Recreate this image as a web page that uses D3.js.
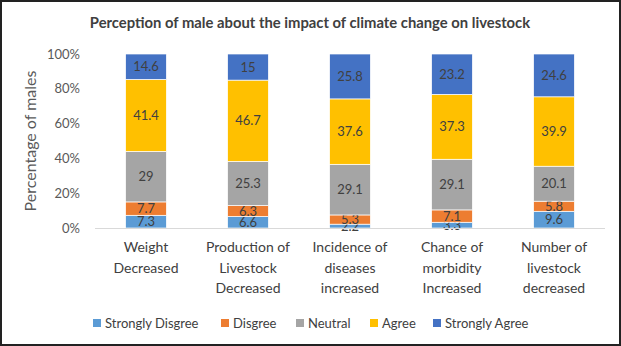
<!DOCTYPE html>
<html>
<head>
<meta charset="utf-8">
<script src="https://cdn.jsdelivr.net/npm/d3@7"></script>
<style>
  html, body { margin: 0; padding: 0; background: #fff; }
  svg { display: block; font-family: Lato, "Open Sans", sans-serif; }
</style>
</head>
<body>
<div id="chart"></div>
<script>
// categories shown along the x axis (one line per array entry)
const categories = [
  ['Weight', 'Decreased'],
  ['Production of', 'Livestock', 'Decreased'],
  ['Incidence of', 'diseases', 'increased'],
  ['Chance of', 'morbidity', 'Increased'],
  ['Number of', 'livestock', 'decreased']
];

const seriesNames = ['Strongly Disgree', 'Disgree', 'Neutral', 'Agree', 'Strongly Agree'];
const seriesColors = ['#5B9BD5', '#ED7D31', '#A5A5A5', '#FFC000', '#4472C4'];

// percentage of males per response, one array per series
const stronglyDisagree = [7.3, 6.6, 2.2, 3.3, 9.6];
const disagree = [7.7, 6.3, 5.3, 7.1, 5.8];
const neutral = [29, 25.3, 29.1, 29.1, 20.1];
const agree = [41.4, 46.7, 37.6, 37.3, 39.9];
const stronglyAgree = [14.6, 15, 25.8, 23.2, 24.6];

const yTicks = [0, 0.2, 0.4, 0.6, 0.8, 1];

const seriesValues = [stronglyDisagree, disagree, neutral, agree, stronglyAgree];
const rows = categories.map((c, i) => {
  const r = { idx: i };
  seriesNames.forEach((s, j) => { r[s] = seriesValues[j][i]; });
  return r;
});

const W = 621, H = 346;
const svg = d3.select('#chart').append('svg')
  .attr('width', W).attr('height', H);

// outer frame
svg.append('rect')
  .attr('x', 1).attr('y', 1).attr('width', W - 2).attr('height', H - 2)
  .attr('fill', '#fff').attr('stroke', '#222').attr('stroke-width', 2);

svg.append('text')
  .attr('x', 310).attr('y', 28)
  .attr('text-anchor', 'middle')
  .attr('font-size', 14.8).attr('font-weight', 'bold').attr('fill', '#404040')
  .text('Perception of male about the impact of climate change on livestock');

const x = d3.scaleBand()
  .domain(d3.range(categories.length))
  .range([95, 605])
  .paddingInner(0.6).paddingOuter(0.3);

const y = d3.scaleLinear().domain([0, 1]).range([228, 54]);

const stack = d3.stack().keys(seriesNames).offset(d3.stackOffsetExpand);
const layers = stack(rows);

// y axis labels
svg.append('g').selectAll('text')
  .data(yTicks).enter().append('text')
  .attr('x', 80).attr('y', d => y(d))
  .attr('dy', '0.35em')
  .attr('text-anchor', 'end')
  .attr('font-size', 13).attr('fill', '#595959')
  .text(d3.format('.0%'));

svg.append('text')
  .attr('transform', 'translate(36,' + ((y(0) + y(1)) / 2) + ') rotate(-90)')
  .attr('text-anchor', 'middle')
  .attr('font-size', 16).attr('fill', '#595959')
  .text('Percentage of males');

const layerG = svg.append('g').selectAll('g')
  .data(layers).enter().append('g')
  .attr('fill', (d, i) => seriesColors[i]);

layerG.selectAll('rect')
  .data(d => d).enter().append('rect')
  .attr('x', d => x(d.data.idx))
  .attr('y', d => y(d[1]))
  .attr('width', x.bandwidth())
  .attr('height', d => y(d[0]) - y(d[1]))
  .attr('stroke', '#fff').attr('stroke-width', 0.7);

// value labels centred in each segment
layerG.each(function (layer) {
  d3.select(this).selectAll('text')
    .data(layer).enter().append('text')
    .attr('x', d => x(d.data.idx) + x.bandwidth() / 2)
    .attr('y', d => (y(d[0]) + y(d[1])) / 2)
    .attr('dy', '0.36em')
    .attr('text-anchor', 'middle')
    .attr('font-size', 13).attr('fill', '#404040')
    .text(d => d.data[layer.key]);
});

// x axis line
svg.append('line')
  .attr('x1', 95).attr('x2', 605)
  .attr('y1', y(0) + 0.5).attr('y2', y(0) + 0.5)
  .attr('stroke', '#D9D9D9').attr('stroke-width', 1);

// category labels
svg.append('g').selectAll('text')
  .data(categories).enter().append('text')
  .attr('x', (d, i) => x(i) + x.bandwidth() / 2)
  .attr('y', 252)
  .attr('text-anchor', 'middle')
  .attr('font-size', 14).attr('fill', '#404040')
  .each(function (lines) {
    d3.select(this).selectAll('tspan')
      .data(lines).enter().append('tspan')
      .attr('x', d3.select(this).attr('x'))
      .attr('dy', (d, k) => k === 0 ? 0 : 20.5)
      .text(d => d);
  });

// legend
const legendX = [93, 221, 296, 370, 433];
const legend = svg.append('g').selectAll('g')
  .data(seriesNames).enter().append('g')
  .attr('transform', (d, i) => 'translate(' + legendX[i] + ',323)');
legend.append('rect')
  .attr('x', 0).attr('y', -4).attr('width', 8).attr('height', 8)
  .attr('fill', (d, i) => seriesColors[i]);
legend.append('text')
  .attr('x', 12).attr('y', 0).attr('dy', '0.35em')
  .attr('font-size', 13).attr('fill', '#404040')
  .text(d => d);
</script>
</body>
</html>
